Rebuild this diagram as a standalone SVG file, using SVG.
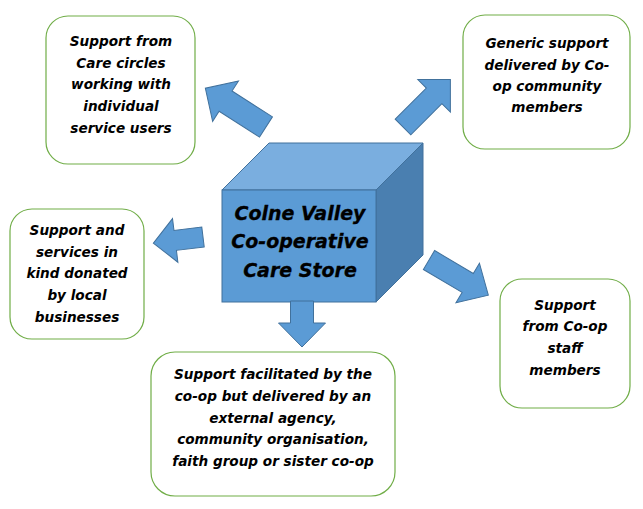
<svg xmlns="http://www.w3.org/2000/svg" width="643" height="509" viewBox="0 0 643 509">
<style>
.box{fill:#fff;stroke:#70AD47;stroke-width:1.2}
.arr{fill:#5B9BD5;stroke:#41719C;stroke-width:1;stroke-linejoin:miter}
.t{font-family:"DejaVu Sans",Verdana,sans-serif;font-weight:bold;font-style:italic;font-size:13.6px;fill:#000;text-anchor:middle}
.ct{font-family:"DejaVu Sans",Verdana,sans-serif;font-weight:bold;font-style:italic;font-size:19px;fill:#000;text-anchor:middle;stroke:#000;stroke-width:0.3}
</style>
<rect width="643" height="509" fill="#fff"/>
<g id="cube">
<polygon points="222,190 269,143 423,143 376,190" fill="#7AAEDF" stroke="#41719C"/>
<polygon points="376,190 423,143 423,255 376,302" fill="#4A7FB0" stroke="#41719C"/>
<rect x="222" y="190" width="154" height="112" fill="#5B9BD5" stroke="#41719C"/>
<text class="ct" x="300" y="220">Colne Valley</text>
<text class="ct" x="300" y="248">Co-operative</text>
<text class="ct" x="300" y="277">Care Store</text>
</g>
<g id="connectors">
<path class="arr" transform="translate(266,127) rotate(212.6)" d="M0,-12 L48,-12 L48,-24 L72,0 L48,24 L48,12 L0,12 Z"/>
<path class="arr" transform="translate(203,237) rotate(173)" d="M0,-10 L28,-10 L28,-22 L50,0 L28,22 L28,10 L0,10 Z"/>
<path class="arr" transform="translate(403,127) rotate(-45)" d="M0,-11 L44,-11 L44,-23 L67,0 L44,23 L44,11 L0,11 Z"/>
<path class="arr" transform="translate(302,301) rotate(90)" d="M0,-11.5 L22,-11.5 L22,-23.5 L46,0 L22,23.5 L22,11.5 L0,11.5 Z"/>
<path class="arr" transform="translate(429,260) rotate(30.7)" d="M0,-11 L45,-11 L45,-23 L69,0 L45,23 L45,11 L0,11 Z"/>
</g>
<g id="care-circles">
<rect class="box" x="46" y="16" width="149" height="148" rx="22"/>
<text class="t" x="121" y="46">Support from</text>
<text class="t" x="121" y="68">Care circles</text>
<text class="t" x="121" y="89">working with</text>
<text class="t" x="121" y="111">individual</text>
<text class="t" x="121" y="133">service users</text>
</g>
<g id="generic-support">
<rect class="box" x="463" y="15" width="167" height="134" rx="22"/>
<text class="t" x="547" y="48">Generic support</text>
<text class="t" x="547" y="70">delivered by Co-</text>
<text class="t" x="547" y="91">op community</text>
<text class="t" x="547" y="112">members</text>
</g>
<g id="local-businesses">
<rect class="box" x="10" y="209" width="134" height="130" rx="22"/>
<text class="t" x="77" y="235">Support and</text>
<text class="t" x="77" y="257">services in</text>
<text class="t" x="77" y="278">kind donated</text>
<text class="t" x="77" y="300">by local</text>
<text class="t" x="77" y="322">businesses</text>
</g>
<g id="staff-members">
<rect class="box" x="500" y="279" width="130" height="129" rx="22"/>
<text class="t" x="565" y="310">Support</text>
<text class="t" x="565" y="331">from Co-op</text>
<text class="t" x="565" y="353">staff</text>
<text class="t" x="565" y="375">members</text>
</g>
<g id="external-agency">
<rect class="box" x="151" y="352" width="244" height="144" rx="24"/>
<text class="t" x="273" y="379">Support facilitated by the</text>
<text class="t" x="273" y="401">co-op but delivered by an</text>
<text class="t" x="273" y="423">external agency,</text>
<text class="t" x="273" y="444">community organisation,</text>
<text class="t" x="273" y="466">faith group or sister co-op</text>
</g>
</svg>
